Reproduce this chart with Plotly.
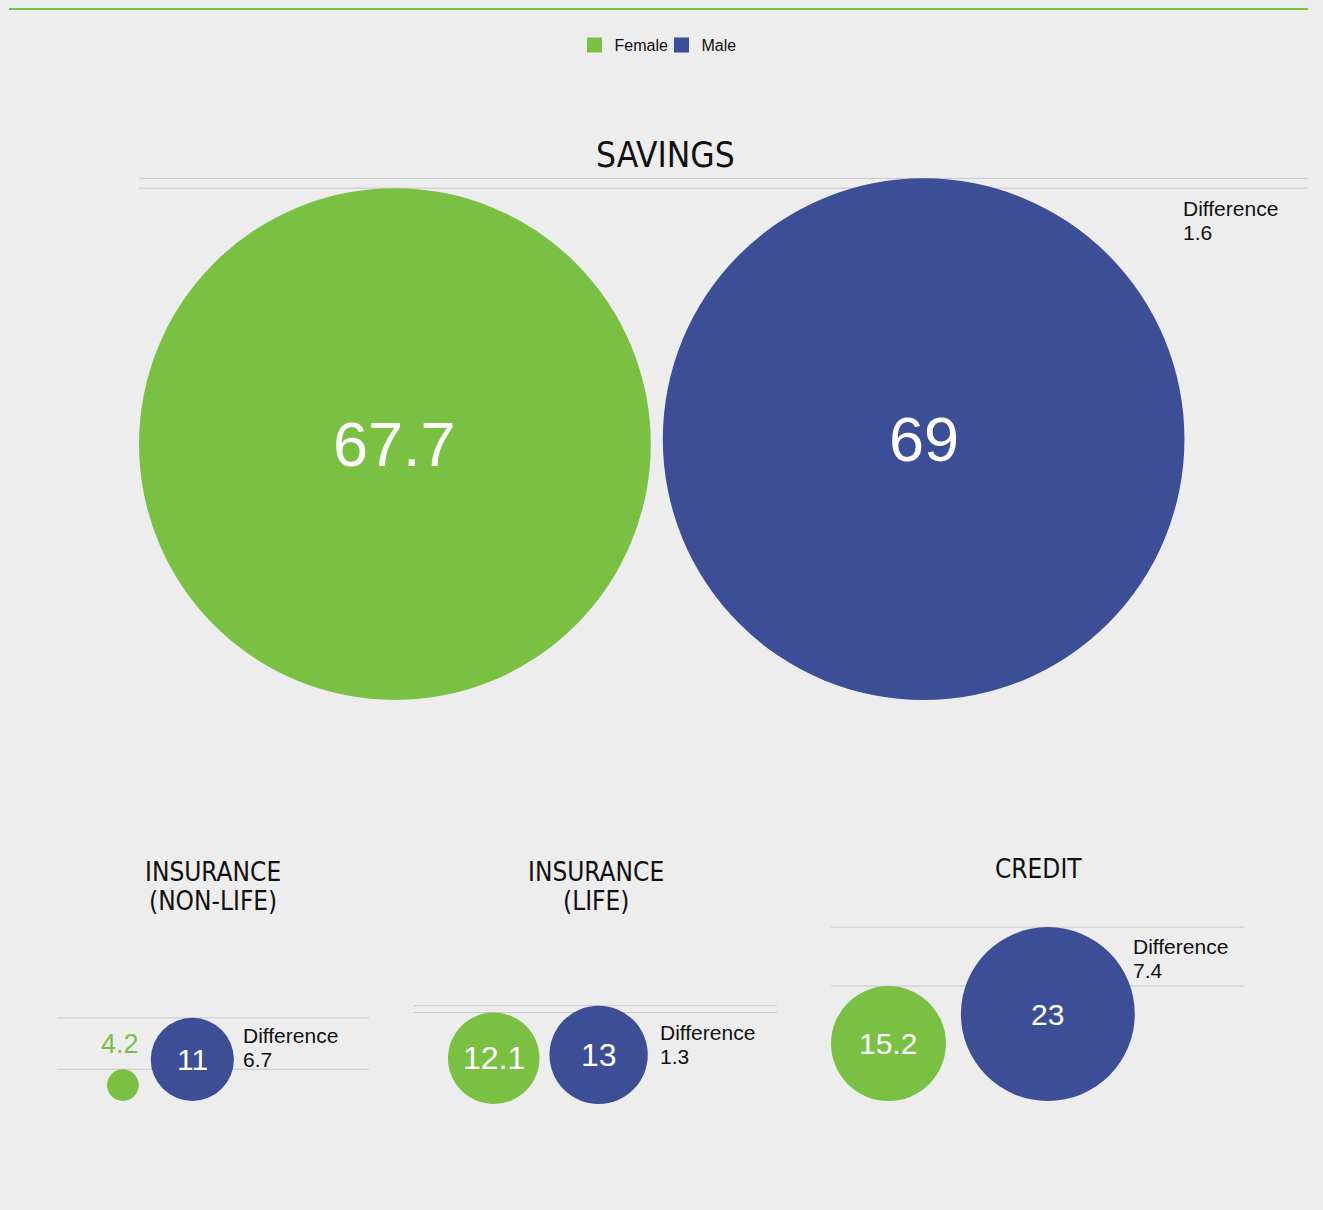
import plotly.graph_objects as go

# ---- data ----
categories = ["SAVINGS", "INSURANCE<br>(NON-LIFE)", "INSURANCE<br>(LIFE)", "CREDIT"]
female = [67.7, 4.2, 12.1, 15.2]
male = [69, 11, 13, 23]
difference = [1.6, 6.7, 1.3, 7.4]
series_names = ["Female", "Male"]

# ---- style / layout constants ----
GREEN = "#7ac143"
BLUE = "#3c4e95"
BG = "#ededed"
LINE = "#c9c9c9"
PX_PER_UNIT = 3.78          # circle radius (px) per unit of value
W, H = 1323, 1210
TITLE_FONT = "Liberation Sans Narrow, DejaVu Sans Condensed, Arial Narrow, sans-serif"
TEXT_FONT = "Liberation Sans, Arial, sans-serif"

# per-panel layout: left edge of first circle, baseline, gap, line extents, title centre, diff label pos, value font
panels = [
    dict(left=139, base=700, gap=12, lx=(139, 1308), title=(665, 155), diff=(1181, 208), vfont=63),
    dict(left=107, base=1101, gap=12, lx=(57, 369), title=(213, 872), diff=(241, 1035), vfont=30),
    dict(left=448, base=1104, gap=10, lx=(414, 777), title=(596, 872), diff=(658, 1032), vfont=32),
    dict(left=831, base=1101, gap=15, lx=(831, 1244), title=(1038, 869), diff=(1131, 946), vfont=30),
]
title_sizes = [35, 26, 26, 26]
TITLE_LINE_GAP = 29
SMALL_LIMIT = 20  # circles smaller than this (radius px) get their label outside

fig = go.Figure()

fx, fy, fs, mx, my, ms = [], [], [], [], [], []
shapes, annotations = [], []

# top green rule
shapes.append(dict(type="line", xref="x", yref="y", x0=9, x1=1308, y0=9, y1=9,
                   line=dict(color=GREEN, width=2)))

for i, cat in enumerate(categories):
    p = panels[i]
    rf = female[i] * PX_PER_UNIT
    rm = male[i] * PX_PER_UNIT
    cfx = p["left"] + rf
    cfy = p["base"] - rf
    cmx = p["left"] + 2 * rf + p["gap"] + rm
    cmy = p["base"] - rm
    fx.append(cfx); fy.append(cfy); fs.append(2 * rf)
    mx.append(cmx); my.append(cmy); ms.append(2 * rm)

    # horizontal guide lines at circle tops
    for top in (cmy - rm, cfy - rf):
        shapes.append(dict(type="line", xref="x", yref="y", x0=p["lx"][0], x1=p["lx"][1],
                           y0=top, y1=top, line=dict(color=LINE, width=1), layer="below"))

    # titles
    lines = cat.split("<br>")
    for j, ln in enumerate(lines):
        annotations.append(dict(x=p["title"][0], y=p["title"][1] + j * TITLE_LINE_GAP, xref="x", yref="y",
                                text=ln, showarrow=False, xanchor="center", yanchor="middle",
                                font=dict(family=TITLE_FONT, size=title_sizes[i], color="#111111")))

    # value labels
    for val, cx, cy, r, col in ((female[i], cfx, cfy, rf, GREEN), (male[i], cmx, cmy, rm, BLUE)):
        if r >= SMALL_LIMIT:
            annotations.append(dict(x=cx, y=cy, xref="x", yref="y", text=f"{val:g}", showarrow=False,
                                    xanchor="center", yanchor="middle",
                                    font=dict(family=TEXT_FONT, size=p["vfont"], color="white")))
        else:
            annotations.append(dict(x=cx - 3, y=cy - r - 25, xref="x", yref="y", text=f"{val:g}",
                                    showarrow=False, xanchor="center", yanchor="middle",
                                    font=dict(family=TEXT_FONT, size=27, color=col)))

    # difference label
    annotations.append(dict(x=p["diff"][0], y=p["diff"][1], xref="x", yref="y", text="Difference",
                            showarrow=False, xanchor="left", yanchor="middle",
                            font=dict(family=TEXT_FONT, size=21, color="#111111")))
    annotations.append(dict(x=p["diff"][0], y=p["diff"][1] + 24, xref="x", yref="y",
                            text=f"{difference[i]:g}", showarrow=False, xanchor="left", yanchor="middle",
                            font=dict(family=TEXT_FONT, size=21, color="#111111")))

fig.add_trace(go.Scatter(x=fx, y=fy, mode="markers", showlegend=False, hoverinfo="skip",
                         marker=dict(size=fs, sizemode="diameter", color=GREEN, line=dict(width=0), opacity=1)))
fig.add_trace(go.Scatter(x=mx, y=my, mode="markers", showlegend=False, hoverinfo="skip",
                         marker=dict(size=ms, sizemode="diameter", color=BLUE, line=dict(width=0), opacity=1)))

# legend entries
for name, col in zip(series_names, (GREEN, BLUE)):
    fig.add_trace(go.Scatter(x=[None], y=[None], mode="markers", name=name,
                             marker=dict(symbol="square", size=15, color=col)))

fig.update_layout(
    width=W, height=H,
    margin=dict(l=0, r=0, t=0, b=0),
    paper_bgcolor=BG, plot_bgcolor=BG,
    xaxis=dict(range=[0, W], visible=False, fixedrange=True),
    yaxis=dict(range=[H, 0], visible=False, fixedrange=True),
    shapes=shapes, annotations=annotations,
    legend=dict(orientation="h", x=0.5, xanchor="center", y=1 - 45 / H, yanchor="middle",
                font=dict(family=TEXT_FONT, size=16, color="#111111"),
                itemwidth=30, entrywidth=42, entrywidthmode="pixels",
                tracegroupgap=0, bgcolor="rgba(0,0,0,0)"),
    showlegend=True,
)

fig.write_html("out.html")
